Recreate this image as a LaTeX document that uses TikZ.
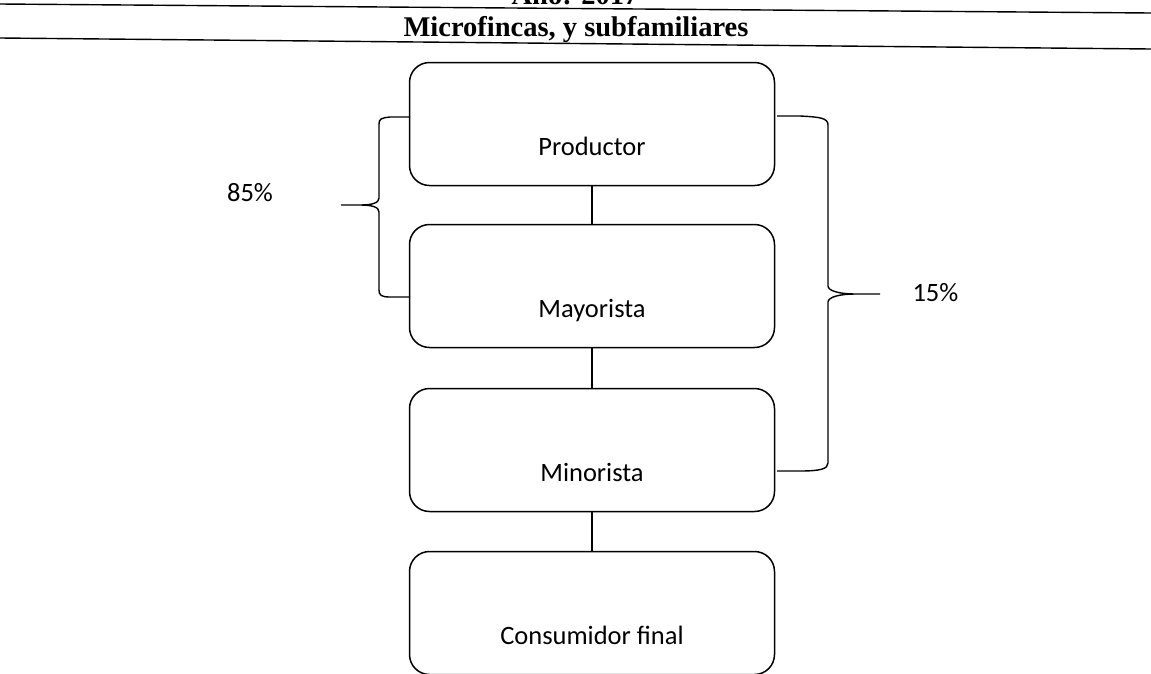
\documentclass[tikz,border=0pt]{standalone}
\usepackage{fontspec}
\setmainfont{Liberation Serif}
\newfontfamily\calibri{Carlito}
\begin{document}
\begin{tikzpicture}[x=1pt, y=-1pt,
  caja/.style={draw, line width=1.5pt, rounded corners=20pt, minimum width=365pt,
    minimum height=123pt, text height=62pt, text depth=0pt, font=\calibri\fontsize{26.5}{30}\selectfont},
  pct/.style={font=\calibri\fontsize{26.5}{30}\selectfont},
  titulo/.style={font=\bfseries\fontsize{28.5}{31}\selectfont},
  llave/.style={line width=1.4pt}]
  \useasboundingbox (0,0) rectangle (1151,673);
  % encabezado
  \node[titulo, anchor=base] (anio) at (575,4) {Año: 2017};
  \draw[line width=1.4pt] (0,4) -- (1151,13);
  \node[titulo, anchor=base] (titulo) at (576,36) {Microfincas, y subfamiliares};
  \draw[line width=1.4pt] (0,38) -- (1151,49);
  % canal de comercializacion
  \node[caja] (prod) at (592,124) {Productor};
  \node[caja] (may) at (592,286) {Mayorista};
  \node[caja] (min) at (592,450) {Minorista};
  \node[caja] (cons) at (592,613) {Consumidor final};
  \draw[line width=1.4pt] (prod) -- (may);
  \draw[line width=1.4pt] (may) -- (min);
  \draw[line width=1.4pt] (min) -- (cons);
  % llaves
  \draw[llave] (410,117) -- (390,117) .. controls (381,118) and (379,119) .. (379,124) -- (379,198)
    .. controls (379,203) and (372,205) .. (360,205) -- (341,205) -- (360,205)
    .. controls (372,205) and (379,207) .. (379,212) -- (379,290)
    .. controls (379,295) and (381,297) .. (390,297) -- (410,297);
  \node[pct] (p85) at (250,193) {85\%};
  \draw[llave] (777,116) -- (800,116) .. controls (820,117) and (828,118) .. (828,125) -- (828,286)
    .. controls (828,291) and (840,294) .. (855,294) -- (880,294) -- (855,294)
    .. controls (840,294) and (828,297) .. (828,302) -- (828,463)
    .. controls (828,469) and (820,471) .. (800,471) -- (777,471);
  \node[pct, anchor=west] (p15) at (909,293) {15\%};
\end{tikzpicture}
\end{document}
